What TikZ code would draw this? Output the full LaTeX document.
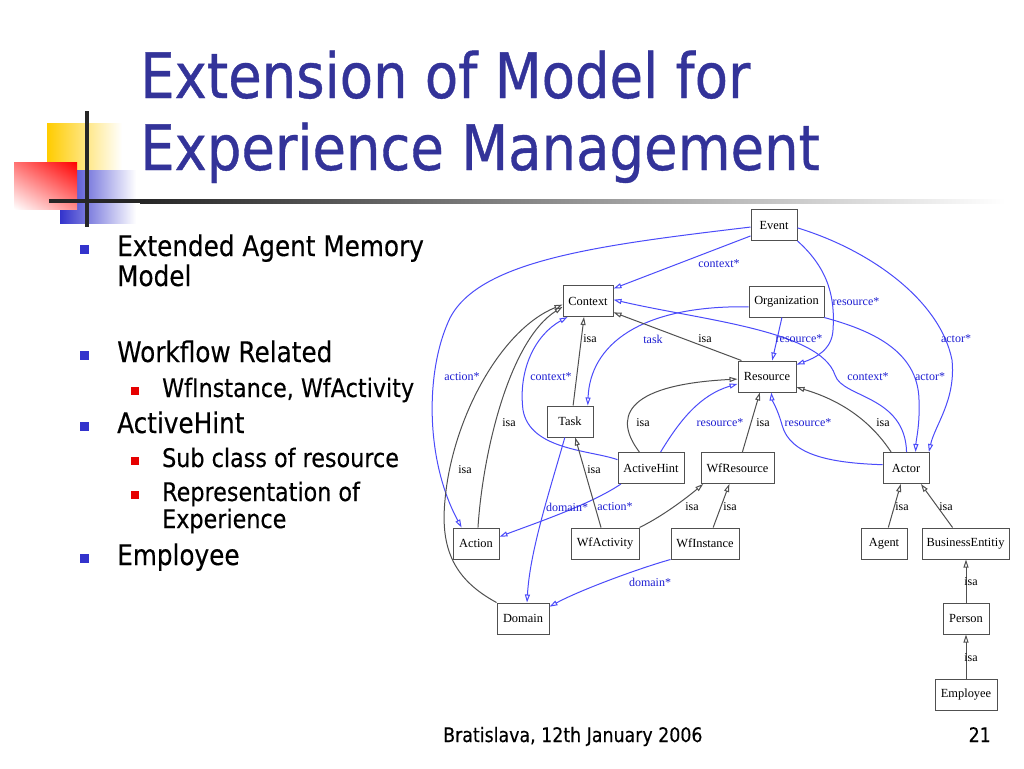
\documentclass[tikz,border=0pt]{standalone}
\usepackage{fontspec}
\setmainfont{Liberation Serif}
\newfontfamily\tahoma[FakeStretch=0.87,FakeBold=0.3]{DejaVu Sans}
\newfontfamily\tahomatitle[FakeStretch=0.87,FakeBold=0.6]{DejaVu Sans}
\usetikzlibrary{arrows.meta,shadings}
\definecolor{titleblue}{RGB}{51,51,153}
\definecolor{bullblue}{RGB}{51,51,204}
\definecolor{bullred}{RGB}{230,0,0}
\definecolor{decoyellow}{RGB}{255,204,0}
\definecolor{decoblue}{RGB}{51,51,204}
\definecolor{edgeblue}{RGB}{75,75,250}
\definecolor{labblue}{RGB}{30,30,210}
\definecolor{edgegray}{RGB}{80,80,80}
\begin{document}
\begin{tikzpicture}[x=1pt,y=-1pt,
  box/.style={draw=edgegray, line width=1pt, fill=white, inner sep=0pt, minimum height=31pt, font=\fontsize{12.4}{14}\selectfont},
  isa/.style={draw=edgegray, line width=1pt, -{Triangle[open,length=8pt,width=5pt]}},
  rel/.style={draw=edgeblue, line width=1pt, -{Triangle[open,length=8pt,width=5pt]}},
  lab/.style={font=\fontsize{12}{14}\selectfont, inner sep=0pt},
  blab/.style={lab, text=labblue},
  txt/.style={anchor=base west, inner sep=0pt},
  bigtxt/.style={txt, font=\tahoma\fontsize{28.4}{32}\selectfont},
  subtxt/.style={txt, font=\tahoma\fontsize{25.6}{30}\selectfont},
  titletxt/.style={txt, font=\tahomatitle\fontsize{62.6}{70}\selectfont, text=titleblue}
]
\useasboundingbox (0,0) rectangle (1024,768);
\fill[white] (0,0) rectangle (1024,768);

% decoration
\shade[left color=decoyellow, middle color=decoyellow, right color=white] (47,123) rectangle (122,170);
\shade[left color=decoblue, middle color=decoblue, right color=white] (60,170) rectangle (136,223);
\shade[upper right=red, upper left=red!55!white, lower right=red!45!white, lower left=white] (14,162) rectangle (77,209);
\fill[black!85] (85,111) rectangle (89,227);
\fill[black!85] (49,198.5) rectangle (140,203);
\shade[left color=black!85, right color=white] (140,199) rectangle (1005,203);

% title
\node[titletxt] (t1) at (140,98) {Extension of Model for};
\node[titletxt] (t2) at (140,170) {Experience Management};

% bullets
\fill[bullblue] (80,245) rectangle (89,254);
\node[bigtxt] (b1) at (117,256) {Extended Agent Memory};
\node[bigtxt] (b1b) at (117,286) {Model};
\fill[bullblue] (80,351) rectangle (89,360);
\node[bigtxt] (b2) at (117,362) {Workflow Related};
\fill[bullred] (131,387) rectangle (139,395);
\node[subtxt] (s1) at (162,397) {WfInstance, WfActivity};
\fill[bullblue] (80,422) rectangle (89,431);
\node[bigtxt] (b3) at (117,433) {ActiveHint};
\fill[bullred] (131,457) rectangle (139,465);
\node[subtxt] (s2) at (162,467) {Sub class of resource};
\fill[bullred] (131,491) rectangle (139,499);
\node[subtxt] (s3) at (162,501) {Representation of};
\node[subtxt] (s3b) at (162,528) {Experience};
\fill[bullblue] (80,554) rectangle (89,563);
\node[bigtxt] (b4) at (117,565) {Employee};

% footer
\node[txt, font=\tahoma\fontsize{20}{24}\selectfont] (f1) at (443,742) {Bratislava, 12th January 2006};
\node[txt, anchor=base east, font=\tahoma\fontsize{20}{24}\selectfont] (f2) at (991,742) {21};

% nodes
\node[box, minimum width=46] (event) at (774,225) {Event};
\node[box, minimum width=50] (context) at (588,301) {Context};
\node[box, minimum width=75] (org) at (786.5,301.5) {Organization};
\node[box, minimum width=58] (resource) at (767,376.5) {Resource};
\node[box, minimum width=46] (task) at (570,421.5) {Task};
\node[box, minimum width=66] (ah) at (651,468) {ActiveHint};
\node[box, minimum width=73] (wfr) at (737.5,468) {WfResource};
\node[box, minimum width=46] (actor) at (906,468) {Actor};
\node[box, minimum width=46] (action) at (476,543.5) {Action};
\node[box, minimum width=68] (wfa) at (605,543.5) {WfActivity};
\node[box, minimum width=68] (wfi) at (705,543.5) {WfInstance};
\node[box, minimum width=46] (agent) at (884,543.5) {Agent};
\node[box, minimum width=87] (be) at (965.5,543.5) {BusinessEntitiy};
\node[box, minimum width=52] (domain) at (523,618.5) {Domain};
\node[box, minimum width=46] (person) at (966,618.5) {Person};
\node[box, minimum width=62] (employee) at (966,694.5) {Employee};

% blue relations
\draw[rel] (event.205) -- (context.26);
\draw[rel] (event.185) .. controls (600,245) and (480,260) .. (450,318) .. controls (425,370) and (425,460) .. (action.132);
\draw[rel] (event.south east) .. controls (830,270) and (835,300) .. (833,330) .. controls (832,350) and (815,358) .. (resource.22);
\draw[rel] (event.353) .. controls (870,250) and (940,300) .. (952,360) .. controls (956,400) and (935,425) .. (actor.35);
\draw[rel] (org.188) .. controls (640,305) and (590,345) .. (task.42);
\draw[rel] (org.254) -- (resource.72);
\draw[rel] (org.337) .. controls (870,330) and (918,350) .. (919,400) .. controls (920,425) and (916,440) .. (actor.59);
\draw[rel] (actor.88) .. controls (905,395) and (842,398) .. (835,375) .. controls (820,330) and (700,320) .. (context.3);
\draw[rel] (ah.59) .. controls (680,420) and (700,395) .. (resource.194);
\draw[rel] (actor.172) .. controls (830,463) and (790,455) .. (782,425) .. controls (778,410) and (772,400) .. (resource.285);
\draw[rel] (ah.166) .. controls (590,450) and (530,450) .. (523,410) .. controls (518,370) and (535,335) .. (context.218);
\draw[rel] (ah.208) .. controls (590,505) and (530,525) .. (action.16);
\draw[rel] (task.252) .. controls (550,490) and (530,550) .. (domain.76);
\draw[rel] (wfi.south west) .. controls (640,568) and (580,590) .. (domain.24);

% isa relations
\draw[isa] (task.79) -- (context.256);
\draw[isa] (resource.148) -- (context.336);
\draw[isa] (action.83) .. controls (483,450) and (510,340) .. (context.193);
\draw[isa] (domain.north west) .. controls (455,580) and (440,550) .. (445,500) .. controls (452,420) and (500,330) .. (context.188);
\draw[isa] (ah.126) .. controls (615,420) and (620,385) .. (resource.185);
\draw[isa] (wfr.73) -- (resource.246);
\draw[isa] (actor.133) .. controls (870,420) and (840,400) .. (resource.340);
\draw[isa] (wfa.104) -- (task.288);
\draw[isa] (wfa.north east) .. controls (665,515) and (690,495) .. (wfr.205);
\draw[isa] (wfi.63) -- (wfr.243);
\draw[isa] (agent.75) -- (actor.252);
\draw[isa] (be.129) -- (actor.313);
\draw[isa] (person.north) -- (be.south -| person.north);
\draw[isa] (employee.north) -- (person.south);

% blue labels
\node[blab] (lc1) at (719,264) {context*};
\node[blab] (la1) at (462,377) {action*};
\node[blab] (lr1) at (856,302) {resource*};
\node[blab] (lac1) at (956,339) {actor*};
\node[blab] (lt) at (653,339) {task};
\node[blab] (lr2) at (799,339) {resource*};
\node[blab] (lac2) at (930,377) {actor*};
\node[blab] (lc2) at (868,377) {context*};
\node[blab] (lc3) at (551,377) {context*};
\node[blab] (lr3) at (720,423) {resource*};
\node[blab] (lr4) at (808,423) {resource*};
\node[blab] (ld1) at (567,507) {domain*};
\node[blab] (la2) at (615,507) {action*};
\node[blab] (ld2) at (650,582) {domain*};

% isa labels
\node[lab] (i1) at (590,339) {isa};
\node[lab] (i2) at (705,339) {isa};
\node[lab] (i3) at (509,423) {isa};
\node[lab] (i4) at (643,423) {isa};
\node[lab] (i5) at (763,423) {isa};
\node[lab] (i6) at (883,423) {isa};
\node[lab] (i7) at (465,470) {isa};
\node[lab] (i8) at (594,470) {isa};
\node[lab] (i9) at (692,507) {isa};
\node[lab] (i10) at (730,507) {isa};
\node[lab] (i11) at (902,507) {isa};
\node[lab] (i12) at (946,507) {isa};
\node[lab] (i13) at (971,582) {isa};
\node[lab] (i14) at (971,658) {isa};
\end{tikzpicture}
\end{document}
